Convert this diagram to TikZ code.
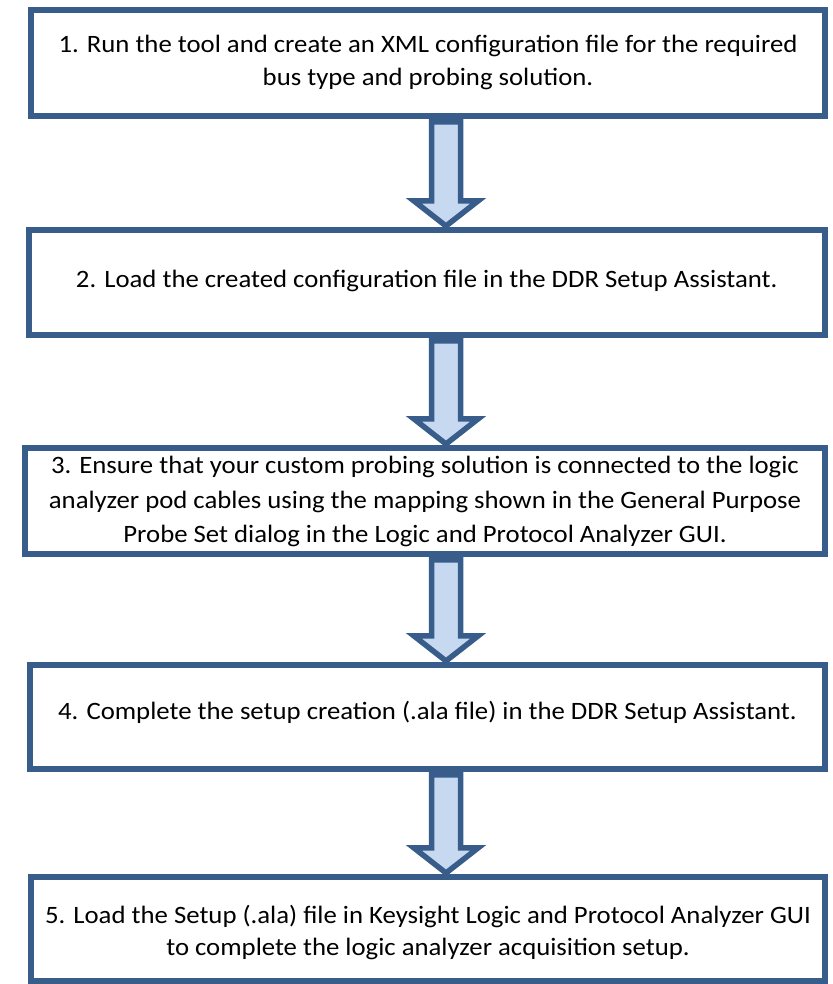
\documentclass[tikz,border=0pt]{standalone}
\usepackage{fontspec}
\setmainfont{Carlito}[FakeStretch=1.07]
\definecolor{edge}{HTML}{385D8A}
\definecolor{afill}{HTML}{C6D9F1}
\begin{document}
\begin{tikzpicture}[x=1pt,y=1pt,
  stepbox/.style={draw=edge,line width=6pt,fill=white,rectangle,inner sep=0pt},
  steptext/.style={inner sep=0pt,align=center,anchor=base,font=\fontsize{25}{33}\selectfont},
  blockarr/.style={draw=edge,line width=5.5pt,fill=afill,line join=miter}]
\useasboundingbox (0,0) rectangle (832,984);
% boxes (y measured from top: y' = 984 - y); text anchored at last baseline
\node[stepbox,minimum width=794pt,minimum height=106pt] (b1) at (428,921) {};
\node[steptext] (t1) at (428,898)
  {1. Run the tool and create an XML configuration file for the required\\bus type and probing solution.};
\node[stepbox,minimum width=796.5pt,minimum height=105pt] (b2) at (426.75,701.5) {};
\node[steptext] (t2) at (426.75,696)
  {2. Load the created configuration file in the DDR Setup Assistant.};
\node[stepbox,minimum width=800pt,minimum height=106pt] (b3) at (425,483) {};
\node[steptext,font=\fontsize{25}{34.5}\selectfont] (t3) at (425,441)
  {3. Ensure that your custom probing solution is connected to the logic\\analyzer pod cables using the mapping shown in the General Purpose\\Probe Set dialog in the Logic and Protocol Analyzer GUI.};
\node[stepbox,minimum width=795pt,minimum height=104pt] (b4) at (427.5,267) {};
\node[steptext] (t4) at (427.5,264)
  {4. Complete the setup creation (.ala file) in the DDR Setup Assistant.};
\node[stepbox,minimum width=794pt,minimum height=104pt] (b5) at (428,55) {};
\node[steptext,font=\fontsize{25}{32}\selectfont] (t5) at (428,28)
  {5. Load the Setup (.ala) file in Keysight Logic and Protocol Analyzer GUI\\to complete the logic analyzer acquisition setup.};
% arrows
\foreach \a/\b in {b1/b2,b2/b3,b3/b4,b4/b5}{
  \path (\a.south) ++(0,-3) coordinate (s0);
  \path (\b.north) ++(0,1) coordinate (e0);
  \coordinate (s) at (s0 -| 446,0);
  \coordinate (e) at (e0 -| 446,0);
  \draw[blockarr] ([xshift=-14.5pt]s) -- ([xshift=-14.5pt,yshift=25pt]e) -- ([xshift=-32pt,yshift=25pt]e)
    -- (e) -- ([xshift=32pt,yshift=25pt]e) -- ([xshift=14.5pt,yshift=25pt]e) -- ([xshift=14.5pt]s) -- cycle;
}
\end{tikzpicture}
\end{document}
